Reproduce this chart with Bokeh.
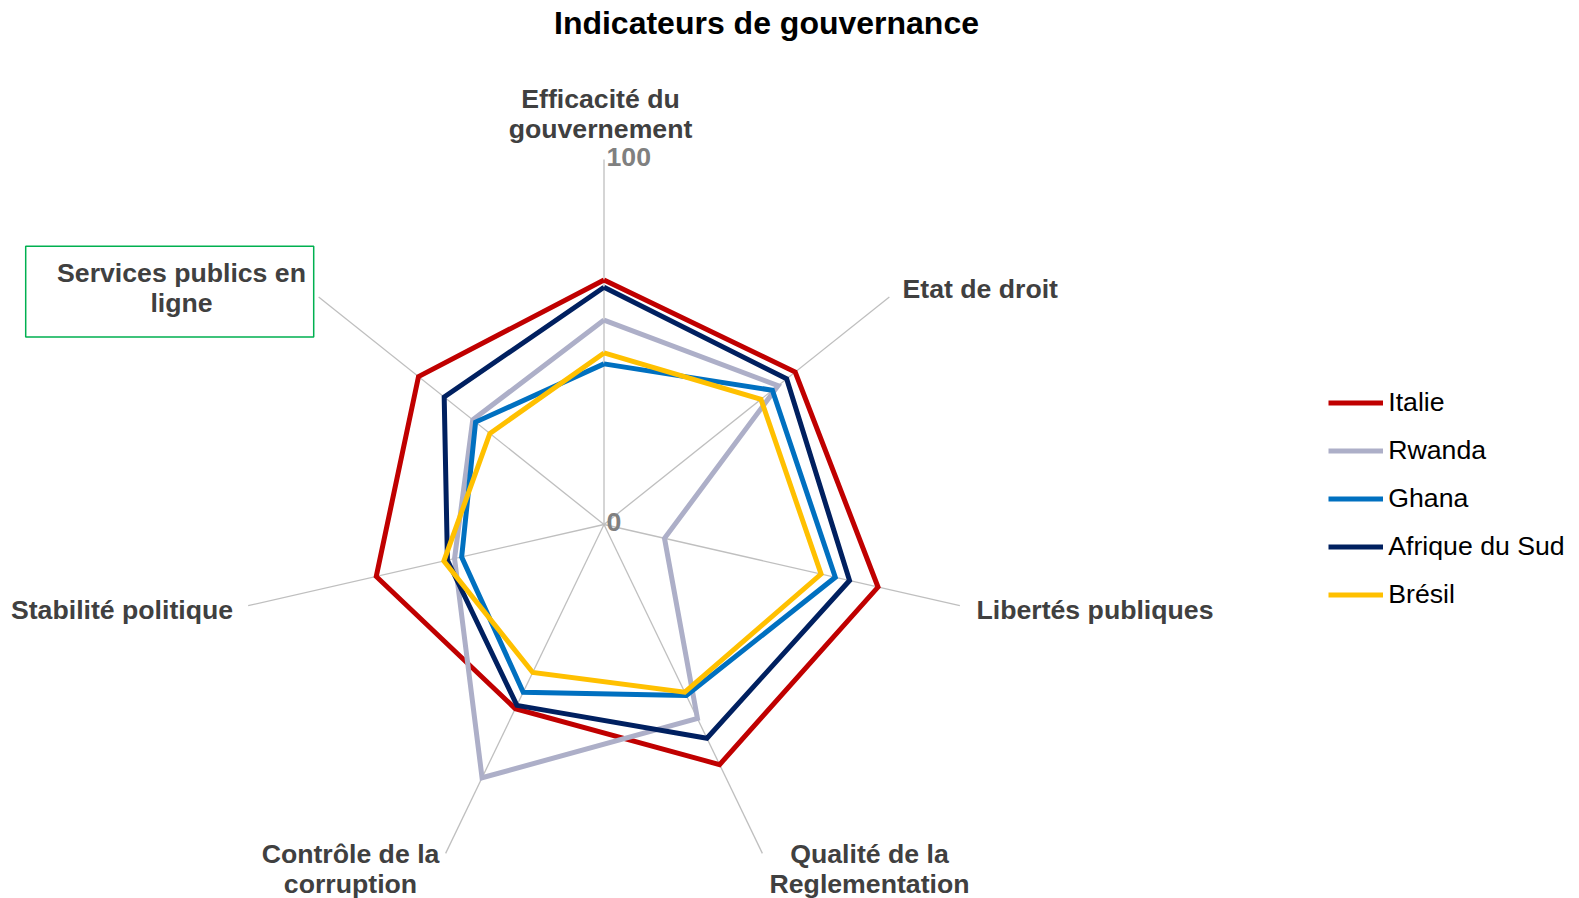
import math
from bokeh.plotting import figure
from bokeh.models import Range1d, ColumnDataSource, Legend, LegendItem
from bokeh.core.properties import value
from bokeh.embed import file_html
from bokeh.resources import INLINE

# ---------------- data ----------------
categories = ["Efficacité du gouvernement", "Etat de droit", "Libertés publiques",
              "Qualité de la Reglementation", "Contrôle de la corruption",
              "Stabilité politique", "Services publics en ligne"]
italie = [67, 67, 77, 73, 56, 64, 65]
rwanda = [56, 61, 17, 59, 77, 42, 46]
ghana = [44, 59, 65, 52, 51, 40, 45]
afrique_du_sud = [65, 64, 69, 65, 55, 44, 56]
bresil = [47, 55, 61, 51, 45, 45, 40]
series_names = ["Italie", "Rwanda", "Ghana", "Afrique du Sud", "Brésil"]
series_values = [italie, rwanda, ghana, afrique_du_sud, bresil]
scale_min, scale_max = 0, 100
scale_labels = ["0", "100"]

# ---------------- layout / style ----------------
W, H = 1579, 898
PAGE_H = 898
colors = ["#C00000", "#ADAFC8", "#0070C0", "#002060", "#FFC000"]
CX, CY = 603.5, PAGE_H - 524.0
R = 365.0
FONT_NAME = "Liberation Sans"
FONT = value(FONT_NAME)

p = figure(width=W, height=H, output_backend="svg", toolbar_location=None,
           x_range=Range1d(0, W), y_range=Range1d(PAGE_H - H, PAGE_H),
           x_axis_location=None, y_axis_location=None, min_border=0,
           outline_line_color=None, tools="")
p.grid.visible = False
p.background_fill_color = "white"
p.border_fill_color = "white"

n = len(categories)
angles = [math.pi / 2 - 2 * math.pi * i / n for i in range(n)]


def to_xy(vals):
    xs = [CX + (v - scale_min) / (scale_max - scale_min) * R * math.cos(a) for v, a in zip(vals, angles)]
    ys = [CY + (v - scale_min) / (scale_max - scale_min) * R * math.sin(a) for v, a in zip(vals, angles)]
    return xs + xs[:1], ys + ys[:1]


# spokes
sx, sy = to_xy([scale_max] * n)
p.segment(x0=[CX] * n, y0=[CY] * n, x1=sx[:-1], y1=sy[:-1],
          line_color="#BFBFBF", line_width=1.3)

# series
items = []
for name, vals, col in zip(series_names, series_values, colors):
    xs, ys = to_xy(vals)
    src = ColumnDataSource(dict(x=xs, y=ys))
    r = p.line("x", "y", source=src, line_color=col, line_width=5, line_join="miter")
    items.append(LegendItem(label=name, renderers=[r]))

# scale labels
p.text(x=[606.0, 606.0], y=[PAGE_H - 521.5, PAGE_H - 156.0], text=scale_labels,
       text_font=FONT, text_font_style="bold", text_font_size="26.67px",
       text_color="#808080", text_align="left", text_baseline="middle")

# category labels
wrapped = {
    "Efficacité du gouvernement": "Efficacité du\ngouvernement",
    "Qualité de la Reglementation": "Qualité de la\nReglementation",
    "Contrôle de la corruption": "Contrôle de la\ncorruption",
    "Services publics en ligne": "Services publics en\nligne",
}
label_pos = [(600, 113.2, "center"), (902, 288, "left"), (976, 609, "left"),
             (869, 868, "center"), (350, 868, "center"), (232.6, 609, "right"),
             (181, 287.5, "center")]
for cat, (lx, ly, al) in zip(categories, label_pos):
    p.text(x=[lx], y=[PAGE_H - ly], text=[wrapped.get(cat, cat)],
           text_font=FONT, text_font_style="bold", text_font_size="26.67px",
           text_color="#404040", text_align=al, text_baseline="middle",
           text_line_height=1.0)

# box around "Services publics en ligne"
p.quad(left=[25.2], right=[313.2], top=[PAGE_H - 245.7], bottom=[PAGE_H - 336.4],
       fill_alpha=0, line_color="#00B050", line_width=1.5)

# title
p.text(x=[766], y=[PAGE_H - 22.5], text=["Indicateurs de gouvernance"],
       text_font=FONT, text_font_style="bold", text_font_size="32px",
       text_color="#000000", text_align="center", text_baseline="middle")

# legend
legend = Legend(items=items, location=(1328.3, 286.2), orientation="vertical",
                glyph_width=55, glyph_height=35, label_height=35, spacing=13,
                label_standoff=5, padding=0, margin=0,
                label_text_font=FONT_NAME, label_text_font_size="26.67px",
                label_text_color="#000000", border_line_color=None,
                background_fill_alpha=0)
p.add_layout(legend)

open("out.html", "w").write(file_html(p, INLINE))
